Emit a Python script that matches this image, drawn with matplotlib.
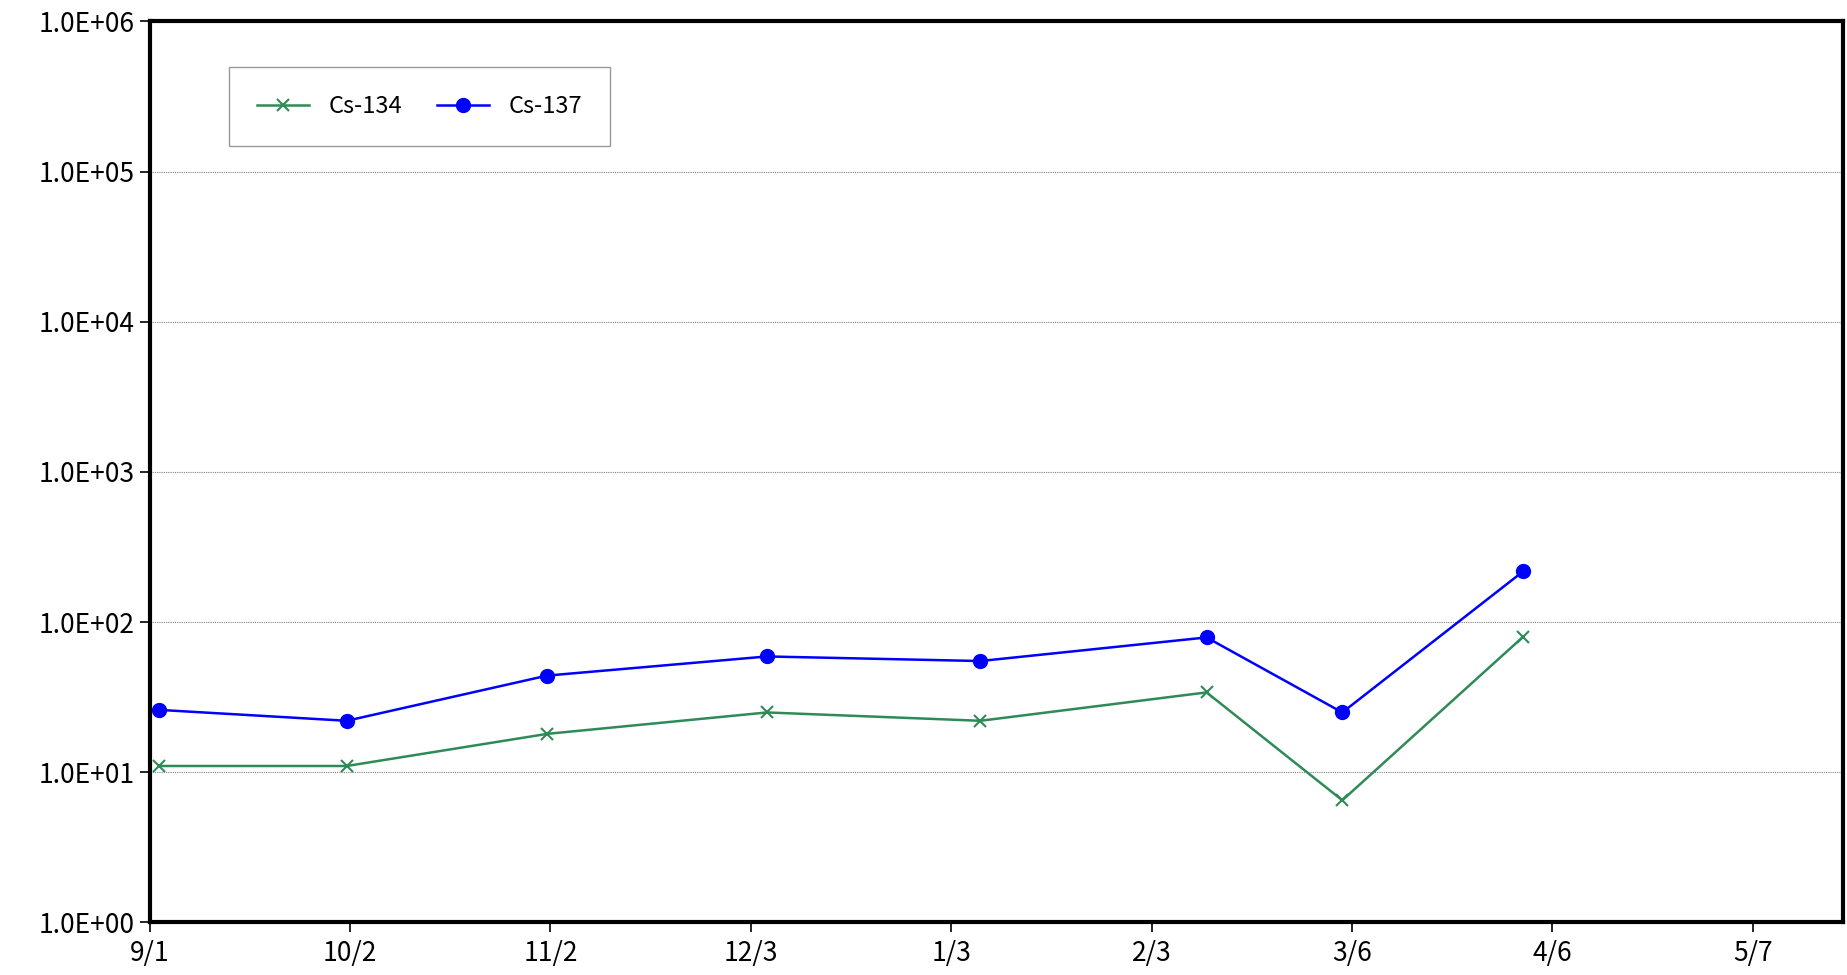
import matplotlib
matplotlib.use("Agg")
import matplotlib.pyplot as plt
import matplotlib.ticker as mticker
import datetime as dt
import math

plt.rcParams['font.family'] = ['Noto Sans CJK JP', 'DejaVu Sans']

dates = ["2013-09-02", "2013-10-01", "2013-11-01", "2013-12-05", "2014-01-07",
         "2014-02-11", "2014-03-04", "2014-04-01"]
cs134 = [11, 11, 18, 25, 22, 34, 6.5, 80]
cs137 = [26, 22, 44, 59, 55, 79, 25, 218]
tick_dates = ["2013-09-01", "2013-10-02", "2013-11-02", "2013-12-03", "2014-01-03",
              "2014-02-03", "2014-03-06", "2014-04-06", "2014-05-07"]
tick_labels = ["9/1", "10/2", "11/2", "12/3", "1/3", "2/3", "3/6", "4/6", "5/7"]

x = [dt.datetime.fromisoformat(d) + dt.timedelta(hours=12) for d in dates]
tx = [dt.datetime.fromisoformat(d) for d in tick_dates]

fig = plt.figure(figsize=(18.47, 9.75), dpi=100)
ax = fig.add_axes([0.081, 0.054, 0.917, 0.924])
ax.plot(x, cs134, color="#2e8b57", marker="x", ms=9, mew=1.5, lw=1.8, label="Cs-134")
ax.plot(x, cs137, color="#0000ff", marker="o", ms=10, lw=1.8, label="Cs-137")
ax.set_yscale("log")
ax.set_ylim(1, 1e6)
ax.set_xlim(dt.datetime(2013, 9, 1), dt.datetime(2014, 5, 21))
ax.set_xticks(tx)
ax.set_xticklabels(tick_labels)
ax.yaxis.set_major_locator(mticker.LogLocator(base=10, numticks=10))
ax.yaxis.set_minor_locator(mticker.NullLocator())
ax.yaxis.set_major_formatter(mticker.FuncFormatter(lambda v, p: "1.0E+%02d" % round(math.log10(v))))
ax.grid(axis="y", color="#808080", lw=0.8, ls=(0, (1, 1)))
for s in ax.spines.values():
    s.set_linewidth(3)
ax.tick_params(axis="both", labelsize=19, direction="out", length=7, width=1.2)
ax.tick_params(axis="x", pad=6)
leg = ax.legend(loc="upper left", bbox_to_anchor=(0.04, 0.963), ncol=2, fontsize=17,
                frameon=True, fancybox=False, edgecolor="#808080", borderpad=1.2,
                handlelength=2.2, columnspacing=1.5)
leg.get_frame().set_linewidth(1)
fig.savefig("out.png")
